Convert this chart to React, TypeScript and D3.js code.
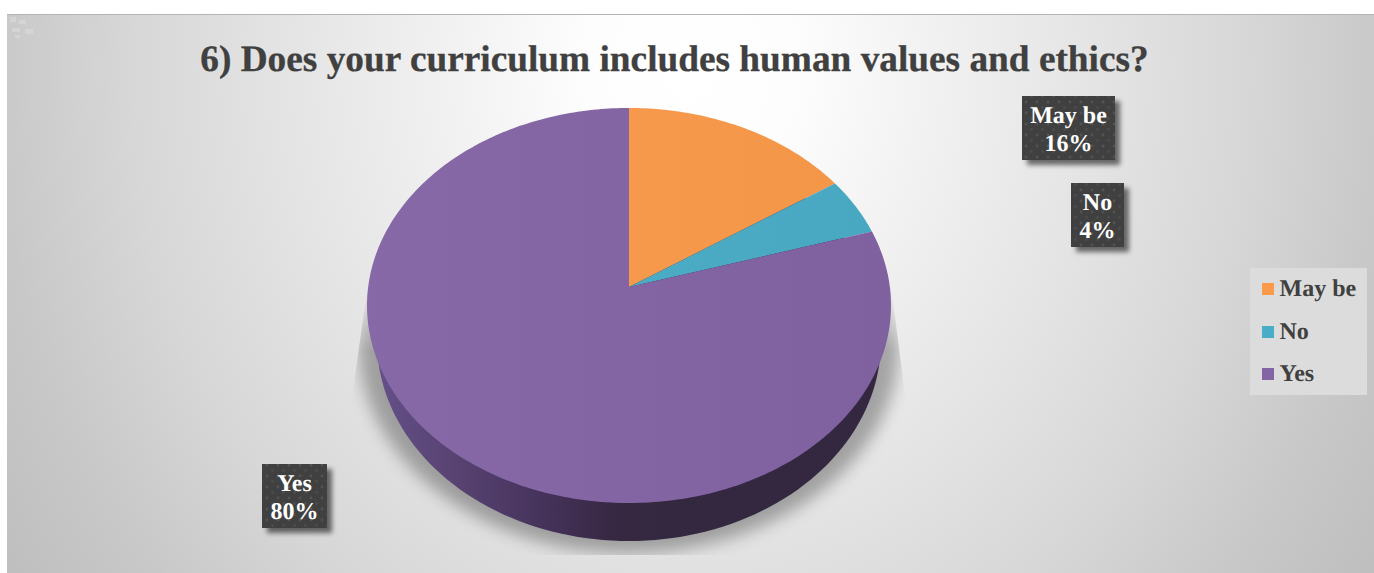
import React from 'react';
import * as d3 from 'd3';

const categories = ['May be', 'No', 'Yes'];
// slice sizes as drawn, the printed labels are rounded in the source chart
const sliceValues = [15.6, 4.7, 79.7];
const percentLabels = ['16%', '4%', '80%'];
const colors = ['#fa9a4a', '#4aadc7', '#8364a5'];
const title = '6) Does your curriculum includes human values and ethics?';

const WIDTH = 1374;
const HEIGHT = 573;
const serif = '"Liberation Serif", "Times New Roman", serif';

// top face of the pie, a disc seen in perspective
const apex = { x: 629, y: 287 };
const topFace = { back: 179, front: 216, halfWidth: 262 };
const depth = { cy: 341, rx: 252, ry: 200 };

const k = (topFace.front - topFace.back) / (topFace.front + topFace.back);
const B = topFace.back * (1 + k);
const A = topFace.halfWidth * Math.sqrt(1 - k * k);

// angle is clockwise from 12 o'clock
const project = (angle: number, r = 1): [number, number] => {
  const px = Math.sin(angle) * r;
  const py = Math.cos(angle) * r;
  const w = 1 + k * py;
  return [apex.x + (A * px) / w, apex.y - (B * py) / w];
};

const pie = d3.pie<number>().sort(null).startAngle(0).endAngle(2 * Math.PI);
const arcs = pie(sliceValues);

const line = d3.line();
const slicePath = (a0: number, a1: number) => {
  const pts: [number, number][] = [[apex.x, apex.y]];
  const n = Math.max(8, Math.ceil((a1 - a0) * 60));
  d3.range(n + 1).forEach(i => pts.push(project(a0 + ((a1 - a0) * i) / n)));
  return line(pts) + 'Z';
};

const ellipsePoint = (t: number): [number, number] => [
  apex.x + depth.rx * Math.sin(t),
  depth.cy + depth.ry * Math.cos(t),
];
const sidePath =
  line(d3.range(0, 361, 2).map(d => ellipsePoint((d * Math.PI) / 180))) + 'Z';

const labelBoxes = [
  { x: 1022, y: 96, w: 93, h: 64 },
  { x: 1071, y: 183, w: 53, h: 64 },
  { x: 262, y: 464, w: 65, h: 64 },
];

const legendRows = [289, 332, 374];

export default function App() {
  return (
    <svg
      width={WIDTH}
      height={HEIGHT}
      textRendering="geometricPrecision"
      style={{ position: 'absolute', left: 0, top: 0, display: 'block' }}
    >
      <defs>
        <radialGradient id="bg" gradientUnits="userSpaceOnUse" cx={690} cy={70} r={820}
          gradientTransform="translate(690 70) scale(1 1.13) translate(-690 -70)">
          <stop offset="0%" stopColor="#ffffff" />
          <stop offset="13%" stopColor="#fdfdfd" />
          <stop offset="30%" stopColor="#f1f1f1" />
          <stop offset="51%" stopColor="#e3e3e3" />
          <stop offset="68%" stopColor="#d7d7d7" />
          <stop offset="85%" stopColor="#c8c8c8" />
          <stop offset="100%" stopColor="#bebebe" />
        </radialGradient>
        <linearGradient id="side" gradientUnits="userSpaceOnUse" x1={370} x2={890} y1={0} y2={0}>
          <stop offset="0%" stopColor="#65508a" />
          <stop offset="16%" stopColor="#584372" />
          <stop offset="34%" stopColor="#45325a" />
          <stop offset="46%" stopColor="#382843" />
          <stop offset="58%" stopColor="#33283f" />
          <stop offset="100%" stopColor="#33283f" />
        </linearGradient>
        <linearGradient id="topSheen" x1="0" y1="0" x2="1" y2="0">
          <stop offset="0%" stopColor="#ffffff" stopOpacity={0.03} />
          <stop offset="100%" stopColor="#000000" stopOpacity={0.03} />
        </linearGradient>
        <pattern id="dots" width={11} height={11} patternUnits="userSpaceOnUse">
          <rect width={11} height={11} fill="#404040" />
          <circle cx={3} cy={3} r={1.4} fill="#525252" />
          <circle cx={8.5} cy={8.5} r={1.4} fill="#4c4c4c" />
        </pattern>
        <filter id="halo" x="-20%" y="-20%" width="140%" height="140%">
          <feGaussianBlur stdDeviation={8} />
        </filter>
        <filter id="boxShadow" x="-30%" y="-30%" width="160%" height="160%">
          <feGaussianBlur stdDeviation={2.5} />
        </filter>
        <clipPath id="haloClip">
          <polygon points="368,285 350,410 350,555 907,555 907,410 891,285" />
        </clipPath>
        <linearGradient id="haloFade" gradientUnits="userSpaceOnUse" x1={0} x2={0} y1={285} y2={350}>
          <stop offset="0%" stopColor="#000" />
          <stop offset="100%" stopColor="#fff" />
        </linearGradient>
        <mask id="haloMask" maskUnits="userSpaceOnUse" x={0} y={0} width={WIDTH} height={HEIGHT}>
          <rect width={WIDTH} height={HEIGHT} fill="url(#haloFade)" />
        </mask>
      </defs>

      <rect width={WIDTH} height={HEIGHT} fill="#ffffff" />
      <rect x={7} y={14} width={WIDTH - 7} height={HEIGHT - 14} fill="url(#bg)" />
      <line x1={7} x2={WIDTH} y1={14.5} y2={14.5} stroke="#b4b4b4" />

      {/* faint speckle in the corner of the background */}
      <g fill="#dcdcdc" opacity={0.6}>
        <rect x={10} y={17} width={6} height={5} />
        <rect x={19} y={20} width={7} height={4} />
        <rect x={12} y={28} width={8} height={4} />
        <rect x={25} y={29} width={8} height={5} />
        <rect x={15} y={35} width={5} height={3} />
      </g>

      <text
        x={674.5}
        y={71}
        textAnchor="middle"
        fontFamily={serif}
        fontWeight="bold"
        fontSize={37.3}
        fill="#404040"
        stroke="#404040"
        strokeWidth={0.3}
      >
        {title}
      </text>

      {/* shadow under the pie */}
      <g clipPath="url(#haloClip)">
        <g mask="url(#haloMask)">
          <ellipse cx={apex.x} cy={345} rx={270} ry={208} fill="#000" fillOpacity={0.3} filter="url(#halo)" />
        </g>
      </g>

      {/* pie wall, then the top face */}
      <path d={sidePath} fill="url(#side)" />
      {arcs.map((a, i) => (
        <path
          key={categories[i]}
          d={slicePath(a.startAngle, a.endAngle)}
          fill={colors[i]}
        />
      ))}
      <path d={slicePath(0, 2 * Math.PI)} fill="url(#topSheen)" />

      {/* data labels */}
      {labelBoxes.map((b, i) => (
        <g key={categories[i]}>
          <rect x={b.x + 5} y={b.y + 5} width={b.w} height={b.h} fill="#000" fillOpacity={0.55} filter="url(#boxShadow)" />
          <rect x={b.x} y={b.y} width={b.w} height={b.h} fill="url(#dots)" />
          <text
            x={b.x + b.w / 2}
            textAnchor="middle"
            fontFamily={serif}
            fontWeight="bold"
            fontSize={24}
            fill="#ffffff"
          >
            <tspan x={b.x + b.w / 2} y={b.y + 27}>{categories[i]}</tspan>
            <tspan x={b.x + b.w / 2} y={b.y + 55}>{percentLabels[i]}</tspan>
          </text>
        </g>
      ))}

      {/* legend */}
      <rect x={1250} y={268} width={117} height={127} fill="#dcdcdc" />
      {categories.map((c, i) => (
        <g key={c}>
          <rect x={1262} y={legendRows[i] - 6} width={12} height={12} fill={colors[i]} />
          <text
            x={1279.5}
            y={legendRows[i] + 7}
            fontFamily={serif}
            fontWeight="bold"
            fontSize={24}
            fill="#404040"
          >
            {c}
          </text>
        </g>
      ))}
    </svg>
  );
}
